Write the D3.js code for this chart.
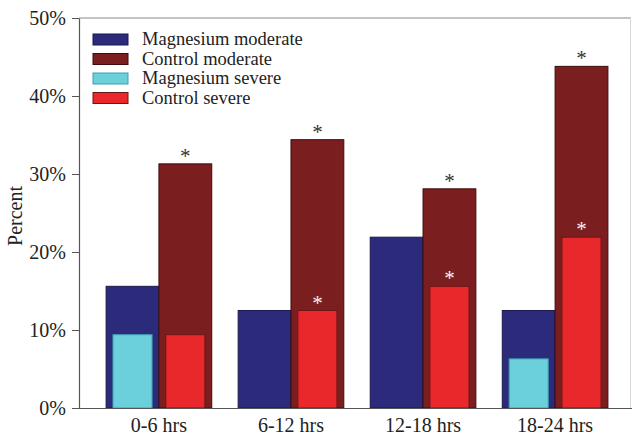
<!DOCTYPE html>
<html>
<head>
<meta charset="utf-8">
<script src="https://cdn.jsdelivr.net/npm/d3@7"></script>
<style>
  body { margin: 0; background: #fff; }
  svg text { font-family: "Liberation Serif", "Times New Roman", serif; fill: #222; }
</style>
</head>
<body>
<div id="chart"></div>
<script>
// =======================
// Data (percent)
// =======================
const groups = ["0-6 hrs", "6-12 hrs", "12-18 hrs", "18-24 hrs"];
const magModerate = [15.6, 12.5, 21.9, 12.5];
const ctrlModerate = [31.3, 34.4, 28.1, 43.8];
const magSevere = [9.4, 0, 0, 6.3];
const ctrlSevere = [9.4, 12.5, 15.6, 21.9];
const sigModerate = [true, true, true, true];
const sigSevere = [false, true, true, true];
const yTicks = [0, 10, 20, 30, 40, 50];
const legendLabels = ["Magnesium moderate", "Control moderate", "Magnesium severe", "Control severe"];

const colors = {
    magMod: "#2c2b7b", magModEdge: "#1a1950",
    ctrlMod: "#7a1e20", ctrlModEdge: "#3e0c0c",
    magSev: "#6bcfdc", magSevEdge: "#3f9db0",
    ctrlSev: "#e8282a", ctrlSevEdge: "#6e1616"
};

// =======================
// SVG + scales
// =======================
const width = 632, height = 436;
const margin = { top: 18, right: 1, bottom: 28, left: 79 };

const svg = d3.select("#chart").append("svg")
    .attr("width", width)
    .attr("height", height);

const x = d3.scaleBand()
    .domain(groups)
    .range([margin.left, width - margin.right])
    .paddingInner(0.2)
    .paddingOuter(0.19)
    .align(0.54);

const xSub = d3.scaleBand()
    .domain(["mag", "ctrl"])
    .range([0, x.bandwidth()]);

const y = d3.scaleLinear()
    .domain([0, 50])
    .range([height - margin.bottom, margin.top]);

const sevRatio = 0.74; // severe bars are narrower, centred on moderate bars

// =======================
// Frame
// =======================
svg.append("line")
    .attr("x1", margin.left).attr("x2", width - margin.right)
    .attr("y1", y(50)).attr("y2", y(50))
    .attr("stroke", "#8a8a8a").attr("stroke-width", 1.2);
svg.append("line")
    .attr("x1", width - margin.right - 0.5).attr("x2", width - margin.right - 0.5)
    .attr("y1", y(50)).attr("y2", y(0))
    .attr("stroke", "#d6d6d6");

// =======================
// Bars
// =======================
const bars = svg.append("g");

function drawBars(values, sub, fill, edge, ratio) {
    const w = xSub.bandwidth() * ratio;
    const off = (xSub.bandwidth() - w) / 2;
    bars.append("g")
        .selectAll("rect")
        .data(values.map((v, i) => ({ v, g: groups[i] })).filter(d => d.v > 0))
        .enter()
        .append("rect")
        .attr("x", d => x(d.g) + xSub(sub) + off)
        .attr("y", d => y(d.v))
        .attr("width", w)
        .attr("height", d => y(0) - y(d.v))
        .attr("fill", fill)
        .attr("stroke", edge)
        .attr("stroke-width", 1);
}

drawBars(magModerate, "mag", colors.magMod, colors.magModEdge, 1);
drawBars(ctrlModerate, "ctrl", colors.ctrlMod, colors.ctrlModEdge, 1);
drawBars(magSevere, "mag", colors.magSev, colors.magSevEdge, sevRatio);
drawBars(ctrlSevere, "ctrl", colors.ctrlSev, colors.ctrlSevEdge, sevRatio);

// Significance asterisks
function drawStars(values, sig, color) {
    svg.append("g")
        .selectAll("text")
        .data(values.map((v, i) => ({ v, g: groups[i], s: sig[i] })).filter(d => d.s))
        .enter()
        .append("text")
        .attr("x", d => x(d.g) + xSub("ctrl") + xSub.bandwidth() / 2)
        .attr("y", d => y(d.v) - 1)
        .attr("text-anchor", "middle")
        .style("font-size", "21px")
        .style("fill", color)
        .text("*");
}
drawStars(ctrlModerate, sigModerate, "#333");
drawStars(ctrlSevere, sigSevere, "#f4f4f4");

// =======================
// Axes
// =======================
const yAxis = svg.append("g")
    .attr("transform", `translate(${margin.left},0)`)
    .call(d3.axisLeft(y).tickValues(yTicks).tickFormat(d => d + "%").tickSize(7).tickSizeOuter(0));
yAxis.select(".domain").attr("stroke", "#555").attr("stroke-width", 1.2);
yAxis.selectAll(".tick line").attr("stroke", "#555");
yAxis.selectAll(".tick text")
    .attr("x", -13)
    .style("font-size", "20px")
    .style("fill", "#222");

const xAxis = svg.append("g")
    .attr("transform", `translate(0,${y(0)})`)
    .call(d3.axisBottom(x).tickSize(0).tickSizeOuter(0));
xAxis.select(".domain")
    .attr("d", `M${margin.left},0.5H${width}`)
    .attr("stroke", "#555").attr("stroke-width", 1.2);
xAxis.selectAll(".tick text")
    .attr("y", 10)
    .style("font-size", "20px")
    .style("fill", "#222");

svg.append("text")
    .attr("transform", `translate(22,${(y(0) + y(50)) / 2 + 3}) rotate(-90)`)
    .attr("text-anchor", "middle")
    .style("font-size", "20px")
    .text("Percent");

// =======================
// Legend
// =======================
const legendFills = [colors.magMod, colors.ctrlMod, colors.magSev, colors.ctrlSev];
const legendEdges = [colors.magModEdge, colors.ctrlModEdge, colors.magSevEdge, colors.ctrlSevEdge];

const legend = svg.append("g")
    .attr("transform", "translate(93,34)");

const item = legend.selectAll("g")
    .data(legendLabels)
    .enter()
    .append("g")
    .attr("transform", (d, i) => `translate(0,${i * 19.5})`);

item.append("rect")
    .attr("width", 35)
    .attr("height", 11)
    .attr("fill", (d, i) => legendFills[i])
    .attr("stroke", (d, i) => legendEdges[i]);

item.append("text")
    .attr("x", 49)
    .attr("y", 11)
    .style("font-size", "18.5px")
    .text(d => d);
</script>
</body>
</html>
